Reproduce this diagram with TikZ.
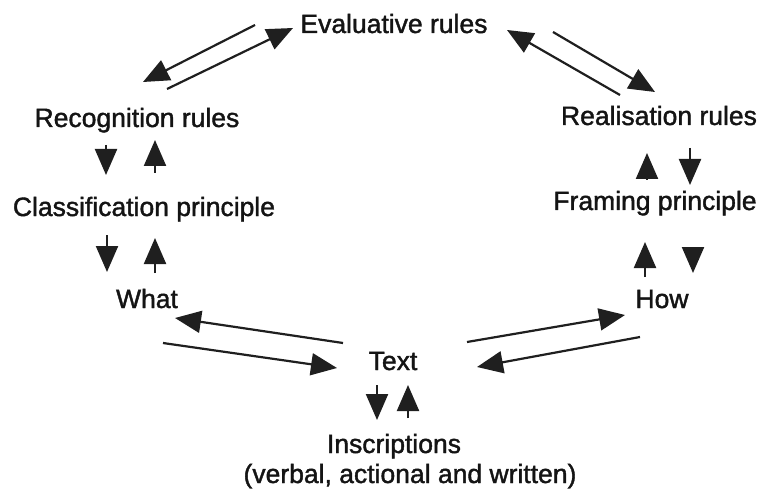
\documentclass[tikz,border=0pt]{standalone}
\usepackage{fontspec}
\setmainfont[FakeBold=1.5]{Liberation Sans}
\usetikzlibrary{arrows.meta,calc}
\begin{document}
\begin{tikzpicture}[x=1pt,y=-1pt,
  lbl/.style={anchor=base,inner sep=0pt,font=\fontsize{26.5}{30}\selectfont,text=black!92},
  arr/.style={line width=2.2pt,draw=black!88,-{Triangle[length=26pt,width=22pt]}}]
\useasboundingbox (0,0) rectangle (759,494);
\node[lbl] (ev)   at (394,33)  {Evaluative rules};
\node[lbl] (rec)  at (137,127) {Recognition rules};
\node[lbl] (cla)  at (144,216) {Classification principle};
\node[lbl] (what) at (147,308) {What};
\node[lbl] (real) at (659,125) {Realisation rules};
\node[lbl] (fra)  at (655,210) {Framing principle};
\node[lbl] (how)  at (662,308) {How};
\node[lbl] (txt)  at (393,370) {Text};
\node[lbl] (ins)  at (394,453) {Inscriptions};
\node[lbl] (insb) at (410,483) {(verbal, actional and written)};
% top
\draw[arr] ($(ev.base)+(-139,-8)$) -- ($(rec.base)+(6,-45)$);
\draw[arr] ($(rec.base)+(30,-38)$) -- ($(ev.base)+(-101,-5)$);
\draw[arr] ($(real.base)+(-39,-30)$) -- ($(ev.base)+(113,-3)$);
\draw[arr] ($(ev.base)+(159,-1)$) -- ($(real.base)+(-4,-33)$);
% left column
\draw[arr] ($(rec.base)+(-31,18)$) -- ($(cla.base)+(-38,-41)$);
\draw[arr] ($(cla.base)+(11,-43)$) -- ($(rec.base)+(18,13)$);
\draw[arr] ($(cla.base)+(-37,19)$) -- ($(what.base)+(-40,-36)$);
\draw[arr] ($(what.base)+(8,-35)$) -- ($(cla.base)+(11,22)$);
% right column
\draw[arr] ($(fra.base)+(-8,-30)$) -- ($(real.base)+(-12,28)$);
\draw[arr] ($(real.base)+(31,23)$) -- ($(fra.base)+(35,-25)$);
\draw[arr] ($(how.base)+(-17,-31)$) -- ($(fra.base)+(-10,32)$);
\draw[arr] ($(fra.base)+(38,42)$) -- ($(how.base)+(31,-35)$);
% bottom
\draw[arr] ($(txt.base)+(-50,-27)$) -- ($(what.base)+(28,10)$);
\draw[arr] ($(what.base)+(16,35)$) -- ($(txt.base)+(-56,-2)$);
\draw[arr] ($(txt.base)+(74,-28)$) -- ($(how.base)+(-37,7)$);
\draw[arr] ($(how.base)+(-22,29)$) -- ($(txt.base)+(84,-3)$);
\draw[arr] ($(txt.base)+(-16,15)$) -- ($(ins.base)+(-17,-33)$);
\draw[arr] ($(ins.base)+(14,-35)$) -- ($(txt.base)+(15,15)$);
\end{tikzpicture}
\end{document}
